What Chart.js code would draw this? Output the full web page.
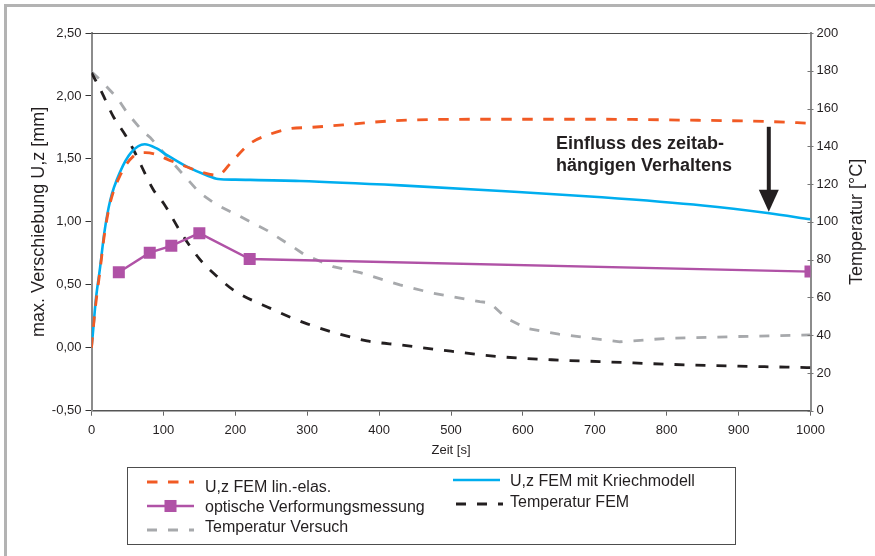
<!DOCTYPE html>
<html>
<head>
<meta charset="utf-8">
<script src="https://cdn.jsdelivr.net/npm/chart.js@4.4.1/dist/chart.umd.min.js"></script>
<style>
  html, body { margin: 0; padding: 0; background: #fff; }
  body { width: 875px; height: 556px; position: relative; overflow: hidden;
         font-family: "Liberation Sans", Arial, Helvetica, sans-serif; color: #231f20; }
  #frame { position: absolute; left: 4px; top: 4px; right: 0; bottom: 0;
           border-top: 3px solid #b3b3b3; border-left: 3px solid #b3b3b3; }
  #c { position: absolute; left: 0; top: 0; }
  #legend { position: absolute; left: 127px; top: 467px; width: 609px; height: 78px;
            box-sizing: border-box; border: 1px solid #4d4d4d; }
  .lg-sample { position: absolute; }
  .lg-text { position: absolute; font-size: 16px; line-height: 18px; white-space: nowrap; color: #231f20; }
</style>
</head>
<body>
<div id="frame"></div>
<canvas id="c" width="875" height="556"></canvas>
<div id="legend"></div>
<script>
// ---- data: time [s] and values ----
// U,z FEM linear-elastic [mm]
const timeLinElas = [0, 5, 12, 18, 26, 40, 58, 75, 90, 104, 131, 150, 175, 197, 220, 250, 276, 304, 350, 387, 450, 550, 700, 800, 944, 1000];
const uzLinElas   = [0, 0.30, 0.62, 0.90, 1.15, 1.37, 1.52, 1.55, 1.535, 1.50, 1.44, 1.40, 1.37, 1.49, 1.62, 1.70, 1.74, 1.75, 1.77, 1.79, 1.81, 1.815, 1.815, 1.81, 1.796, 1.783];

// U,z FEM with creep model [mm]
const timeKriech = [0, 2, 6, 12, 18, 26, 40, 55, 74, 90, 105, 132, 160, 176, 200, 290, 430, 570, 710, 850, 940, 1000];
const uzKriech   = [0, 0.12, 0.38, 0.64, 0.92, 1.17, 1.40, 1.55, 1.616, 1.585, 1.53, 1.44, 1.37, 1.34, 1.335, 1.325, 1.29, 1.245, 1.195, 1.13, 1.07, 1.02];

// optical deformation measurement [mm]
const timeOptisch = [38, 81, 111, 150, 220, 1000];
const uzOptisch   = [0.60, 0.755, 0.81, 0.91, 0.705, 0.605];

// measured temperature [°C]
const timeTempVersuch = [0, 14, 36, 50, 70, 82, 150, 172, 206, 244, 281, 297, 336, 374, 429, 475, 540, 554, 577, 605, 650, 707, 735, 800, 900, 1000];
const tempVersuch     = [179.5, 174.5, 165.5, 157.5, 148.5, 144.5, 115.5, 109.5, 103, 95.5, 86.5, 82.4, 76.3, 73.1, 66.6, 62.2, 57.7, 57.2, 49, 43.6, 40.5, 37.8, 36.5, 38.3, 39.3, 40.1];

// FEM temperature [°C]
const timeTempFem = [0, 15, 30, 47, 60, 86, 100, 125, 151, 175, 197, 250, 300, 383, 430, 500, 568, 650, 707, 800, 900, 1000];
const tempFem     = [179, 168, 156, 146, 137, 117, 110, 94, 80, 71, 64, 54, 46, 37, 34.8, 31.5, 28.6, 26.8, 26, 24.6, 23.6, 22.8];

// series names
const seriesNames = {
  linElas: 'U,z FEM lin.-elas.',
  kriech: 'U,z FEM mit Kriechmodell',
  optisch: 'optische Verformungsmessung',
  tempFem: 'Temperatur FEM',
  tempVersuch: 'Temperatur Versuch'
};

// axes
const xRange = [0, 1000], xStep = 100;
const uzRange = [-0.5, 2.5], uzStep = 0.5;
const tempRange = [0, 200], tempStep = 20;
const xTitle = 'Zeit [s]';
const uzTitle = 'max. Verschiebung U,z [mm]';
const tempTitle = 'Temperatur [°C]';

// note with arrow (time, displacement)
const noteLines = ['Einfluss des zeitab-', 'hängigen Verhaltens'];
const noteAt = [646, 1.62];
const arrowTime = 942, arrowFrom = 1.755, arrowTo = 1.08;

// ---- chart ----
const FONT = '"Liberation Sans", Arial, Helvetica, sans-serif';
const INK = '#231f20';
Chart.defaults.font.family = FONT;
Chart.defaults.color = INK;

const pts = (xs, ys) => xs.map((x, i) => ({ x: x, y: ys[i] }));
const fmt = v => v.toFixed(2).replace('.', ',');

const datasets = [
  { label: seriesNames.optisch, data: pts(timeOptisch, uzOptisch), yAxisID: 'y',
    borderColor: '#b052a6', backgroundColor: '#b052a6', borderWidth: 2.4,
    pointStyle: 'rect', pointRadius: 8.5, pointHoverRadius: 8.5, pointBorderWidth: 0, tension: 0 },
  { label: seriesNames.linElas, data: pts(timeLinElas, uzLinElas), yAxisID: 'y',
    borderColor: '#f15a24', borderWidth: 2.8, borderDash: [10.5, 10.5],
    pointRadius: 0, cubicInterpolationMode: 'monotone' },
  { label: seriesNames.kriech, data: pts(timeKriech, uzKriech), yAxisID: 'y',
    borderColor: '#00aeef', borderWidth: 2.6, pointRadius: 0, cubicInterpolationMode: 'monotone' },
  { label: seriesNames.tempFem, data: pts(timeTempFem, tempFem), yAxisID: 'y1',
    borderColor: INK, borderWidth: 2.8, borderDash: [10, 11],
    pointRadius: 0, cubicInterpolationMode: 'monotone' },
  { label: seriesNames.tempVersuch, data: pts(timeTempVersuch, tempVersuch), yAxisID: 'y1',
    borderColor: '#a7a9ac', borderWidth: 2.8, borderDash: [10, 11],
    pointRadius: 0, tension: 0 }
];

const decor = {
  id: 'decor',
  afterDraw(chart) {
    const { ctx, chartArea: a, scales } = chart;
    const xs = scales.x, ys = scales.y, y1 = scales.y1;
    ctx.save();
    // frame line on top of plot
    ctx.strokeStyle = '#4d4d4d';
    ctx.lineWidth = 1;
    ctx.beginPath();
    ctx.moveTo(a.left, a.top + 0.5);
    ctx.lineTo(a.right, a.top + 0.5);
    ctx.stroke();
    // tick marks crossing the temperature axis
    ctx.strokeStyle = '#777';
    y1.ticks.forEach(t => {
      const py = Math.round(y1.getPixelForValue(t.value)) + 0.5;
      ctx.beginPath();
      ctx.moveTo(a.right - 3, py);
      ctx.lineTo(a.right + 3, py);
      ctx.stroke();
    });
    // temperature axis title, reading bottom to top
    ctx.save();
    ctx.translate(857, (a.top + a.bottom) / 2);
    ctx.rotate(-Math.PI / 2);
    ctx.fillStyle = INK;
    ctx.font = '18px ' + FONT;
    ctx.textAlign = 'center';
    ctx.textBaseline = 'middle';
    ctx.fillText(tempTitle, 0, 0);
    ctx.restore();
    // note text
    ctx.fillStyle = INK;
    ctx.font = 'bold 18px ' + FONT;
    ctx.textAlign = 'left';
    ctx.textBaseline = 'middle';
    const tx = xs.getPixelForValue(noteAt[0]);
    const ty = ys.getPixelForValue(noteAt[1]);
    noteLines.forEach((s, i) => ctx.fillText(s, tx, ty + i * 22));
    // arrow
    const ax = xs.getPixelForValue(arrowTime);
    const a0 = ys.getPixelForValue(arrowFrom);
    const a1 = ys.getPixelForValue(arrowTo);
    const head = 22, half = 10;
    ctx.strokeStyle = INK;
    ctx.lineWidth = 4;
    ctx.beginPath();
    ctx.moveTo(ax, a0);
    ctx.lineTo(ax, a1 - head + 2);
    ctx.stroke();
    ctx.beginPath();
    ctx.moveTo(ax - half, a1 - head);
    ctx.lineTo(ax + half, a1 - head);
    ctx.lineTo(ax, a1);
    ctx.closePath();
    ctx.fill();
    ctx.restore();
  }
};

const chart = new Chart(document.getElementById('c'), {
  type: 'line',
  data: { datasets: datasets },
  options: {
    responsive: false,
    animation: false,
    devicePixelRatio: 1,
    layout: { padding: { left: 0, right: 0, top: 33, bottom: 0 } },
    plugins: { legend: { display: false }, tooltip: { enabled: false } },
    scales: {
      x: {
        type: 'linear', min: xRange[0], max: xRange[1],
        ticks: { stepSize: xStep, font: { size: 13 }, color: INK, padding: 7, maxRotation: 0, autoSkip: false,
                 callback: v => String(v) },
        grid: { display: true, drawOnChartArea: false, tickLength: 5, color: '#666', lineWidth: 1 },
        border: { display: true, color: '#555', width: 1.5 },
        title: { display: true, text: xTitle, font: { size: 13 }, color: INK, padding: { top: 0, bottom: 98.2 } },
        afterFit(s) { s.height = 145.3; }
      },
      y: {
        type: 'linear', position: 'left', min: uzRange[0], max: uzRange[1],
        ticks: { stepSize: uzStep, font: { size: 13 }, color: INK, padding: 4, callback: v => fmt(v) },
        grid: { display: true, drawOnChartArea: false, tickLength: 6, color: '#333', lineWidth: 1 },
        border: { display: true, color: '#8c8c8c', width: 2 },
        title: { display: true, text: uzTitle, font: { size: 18 }, color: INK, padding: { top: 27.9, bottom: 0 } },
        afterFit(s) { s.width = 91.5; }
      },
      y1: {
        type: 'linear', position: 'right', min: tempRange[0], max: tempRange[1],
        ticks: { stepSize: tempStep, font: { size: 13 }, color: INK, padding: 6, callback: v => String(v) },
        grid: { display: false, drawTicks: false },
        border: { display: true, color: '#8c8c8c', width: 2 },
        title: { display: false },
        afterFit(s) { s.width = 64.5; }
      }
    }
  },
  plugins: [decor]
});

// ---- legend (two columns) ----
const byLabel = l => datasets.find(d => d.label === l);
const legendItems = [
  { name: seriesNames.linElas,     sx: 146.7, sy: 481.7, tx: 205, ty: 487 },
  { name: seriesNames.optisch,     sx: 146.7, sy: 506,   tx: 205, ty: 507 },
  { name: seriesNames.tempVersuch, sx: 146.7, sy: 530,   tx: 205, ty: 527 },
  { name: seriesNames.kriech,      sx: 453,   sy: 479.5, tx: 510, ty: 481 },
  { name: seriesNames.tempFem,     sx: 456,   sy: 504,   tx: 510, ty: 502 }
];
const SW = 47, SH = 16;
legendItems.forEach(it => {
  const ds = byLabel(it.name);
  const cv = document.createElement('canvas');
  cv.width = SW; cv.height = SH;
  cv.className = 'lg-sample';
  cv.style.left = it.sx + 'px';
  cv.style.top = (it.sy - SH / 2) + 'px';
  document.body.appendChild(cv);
  const g = cv.getContext('2d');
  g.strokeStyle = ds.borderColor;
  g.lineWidth = ds.borderWidth;
  g.setLineDash(ds.borderDash || []);
  g.beginPath();
  g.moveTo(0, SH / 2);
  g.lineTo(SW, SH / 2);
  g.stroke();
  if (ds.pointRadius > 0) {
    const side = Math.SQRT2 * ds.pointRadius;
    g.fillStyle = ds.backgroundColor;
    g.fillRect(SW / 2 - side / 2, SH / 2 - side / 2, side, side);
  }
  const t = document.createElement('div');
  t.className = 'lg-text';
  t.textContent = it.name;
  t.style.left = it.tx + 'px';
  t.style.top = (it.ty - 9) + 'px';
  document.body.appendChild(t);
});
</script>
</body>
</html>
